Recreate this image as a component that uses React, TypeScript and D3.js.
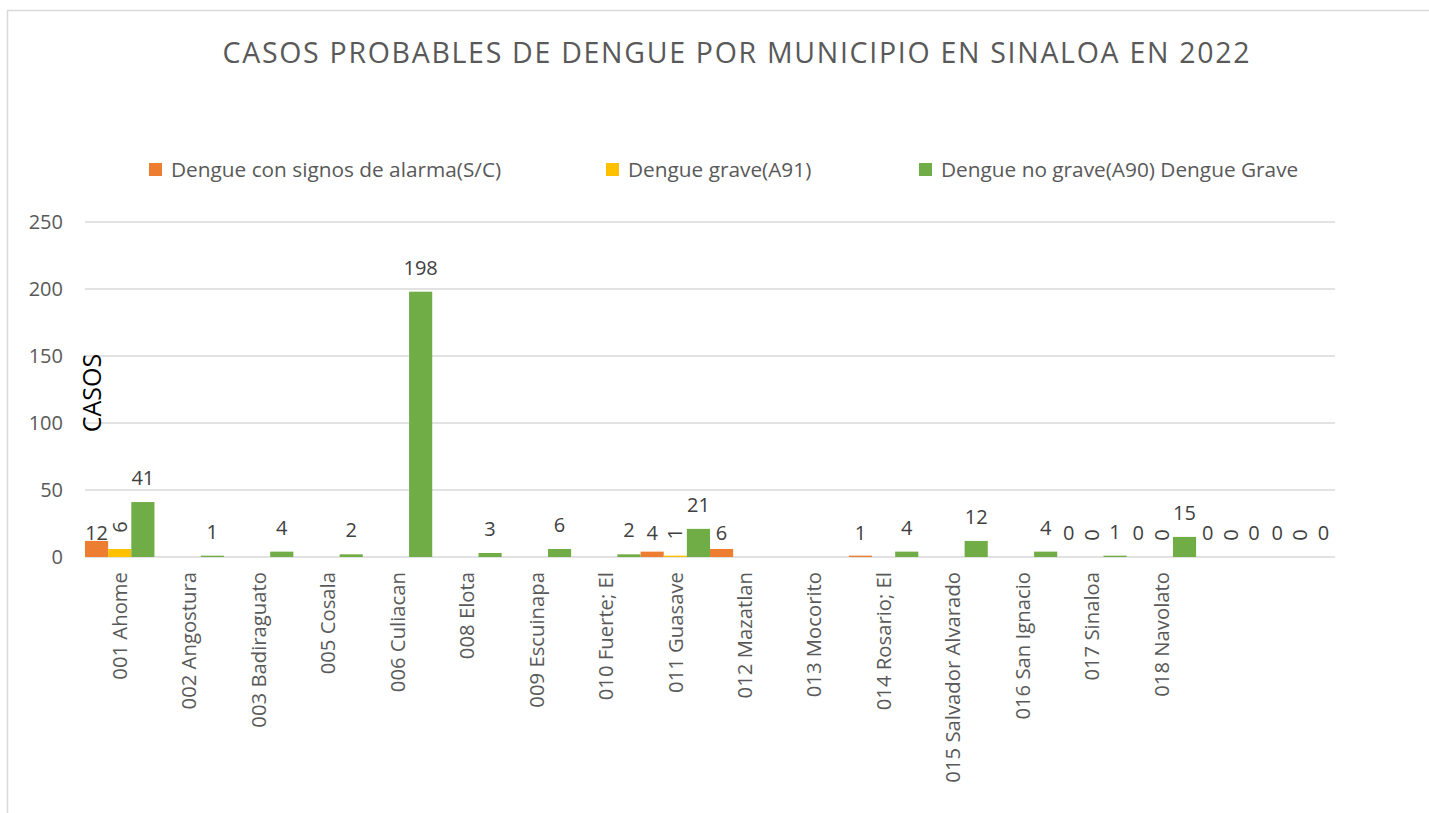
import React from "react";
import * as d3 from "d3";

const categories = [
  "001 Ahome", "002 Angostura", "003 Badiraguato", "005 Cosala", "006 Culiacan",
  "008 Elota", "009 Escuinapa", "010 Fuerte; El", "011 Guasave", "012 Mazatlan",
  "013 Mocorito", "014 Rosario; El", "015 Salvador Alvarado", "016 San Ignacio",
  "017 Sinaloa", "018 Navolato", "", "",
];
const alarma: (number | null)[] = [12, null, null, null, null, null, null, null, 4, 6, null, 1, null, null, 0, 0, 0, 0];
const grave: (number | null)[] = [6, null, null, null, null, null, null, null, 1, null, null, null, null, null, 0, 0, 0, 0];
const noGrave: (number | null)[] = [41, 1, 4, 2, 198, 3, 6, 2, 21, null, null, 4, 12, 4, 1, 15, 0, 0];
const seriesNames = ["Dengue con signos de alarma(S/C)", "Dengue grave(A91)", "Dengue no grave(A90) Dengue Grave"];
const seriesColors = ["#ED7D31", "#FFC000", "#70AD47"];
const yTicks = [0, 50, 100, 150, 200, 250];
const title = "CASOS PROBABLES DE DENGUE POR MUNICIPIO EN SINALOA EN 2022";

const FONT = "'Open Sans', sans-serif";

export default function App() {
  const W = 1429, H = 813;
  const left = 85, right = 1335, top = 222, bottom = 557;
  const series = [alarma, grave, noGrave];
  const x = d3.scaleBand<number>().domain(d3.range(categories.length)).range([left, right]).paddingInner(0).paddingOuter(0);
  const xs = d3.scaleBand<number>().domain([0, 1, 2]).range([0, x.bandwidth()]).padding(0);
  const y = d3.scaleLinear().domain([0, 250]).range([bottom, top]);
  const legendX = [149, 606, 919];

  return (
    <svg width={W} height={H} style={{ position: "absolute", left: 0, top: 0, background: "#fff" }} fontFamily={FONT}>
      <rect x={0} y={0} width={W} height={H} fill="#fff" />
      <path d={`M7.5,${H} V10.5 H${W}`} fill="none" stroke="#d9d9d9" strokeWidth={1.5} />
      <text x={736} y={63} textAnchor="middle" fontSize={28.5} fill="#595959" textLength={1027} lengthAdjust="spacing">{title}</text>
      {seriesNames.map((n, i) => (
        <g key={n}>
          <rect x={legendX[i]} y={163} width={13} height={13} fill={seriesColors[i]} />
          <text x={legendX[i] + 22} y={177} fontSize={20.8} fill="#595959">{n}</text>
        </g>
      ))}
      {yTicks.map((t) => (
        <g key={t}>
          <line x1={left} x2={right} y1={y(t)} y2={y(t)} stroke="#d9d9d9" strokeWidth={1.3} />
          <text x={63} y={y(t)} dy="0.36em" textAnchor="end" fontSize={20} fill="#595959">{t}</text>
        </g>
      ))}
      {series.map((vals, si) =>
        vals.map((v, ci) => {
          if (v === null) return null;
          const bx = (x(ci) as number) + (xs(si) as number);
          const bw = xs.bandwidth();
          const yt = y(v);
          return (
            <rect key={`b${si}-${ci}`} x={bx} y={yt} width={bw} height={bottom - yt} fill={seriesColors[si]} />
          );
        })
      )}
      {series.map((vals, si) =>
        vals.map((v, ci) => {
          if (v === null) return null;
          const cx = (x(ci) as number) + (xs(si) as number) + xs.bandwidth() / 2;
          const yt = y(v);
          if (si === 1) {
            return (
              <text key={`l${si}-${ci}`} transform={`translate(${cx},${yt - 22}) rotate(-90)`} textAnchor="middle" dy="0.36em" fontSize={20} fill="#404040">{v}</text>
            );
          }
          const by = si === 0 ? Math.min(yt, bottom - 17) : yt - 17;
          return (
            <text key={`l${si}-${ci}`} x={cx} y={by} textAnchor="middle" fontSize={20} fill="#404040">{v}</text>
          );
        })
      )}
      <text transform={`translate(101,393) rotate(-90)`} textAnchor="middle" fontSize={25} fill="#000">CASOS</text>
      {categories.map((c, i) => (
        <text key={`c${i}`} transform={`translate(${(x(i) as number) + x.bandwidth() / 2},572) rotate(-90)`} textAnchor="end" dy="0.36em" fontSize={20.3} fill="#595959">{c}</text>
      ))}
    </svg>
  );
}
